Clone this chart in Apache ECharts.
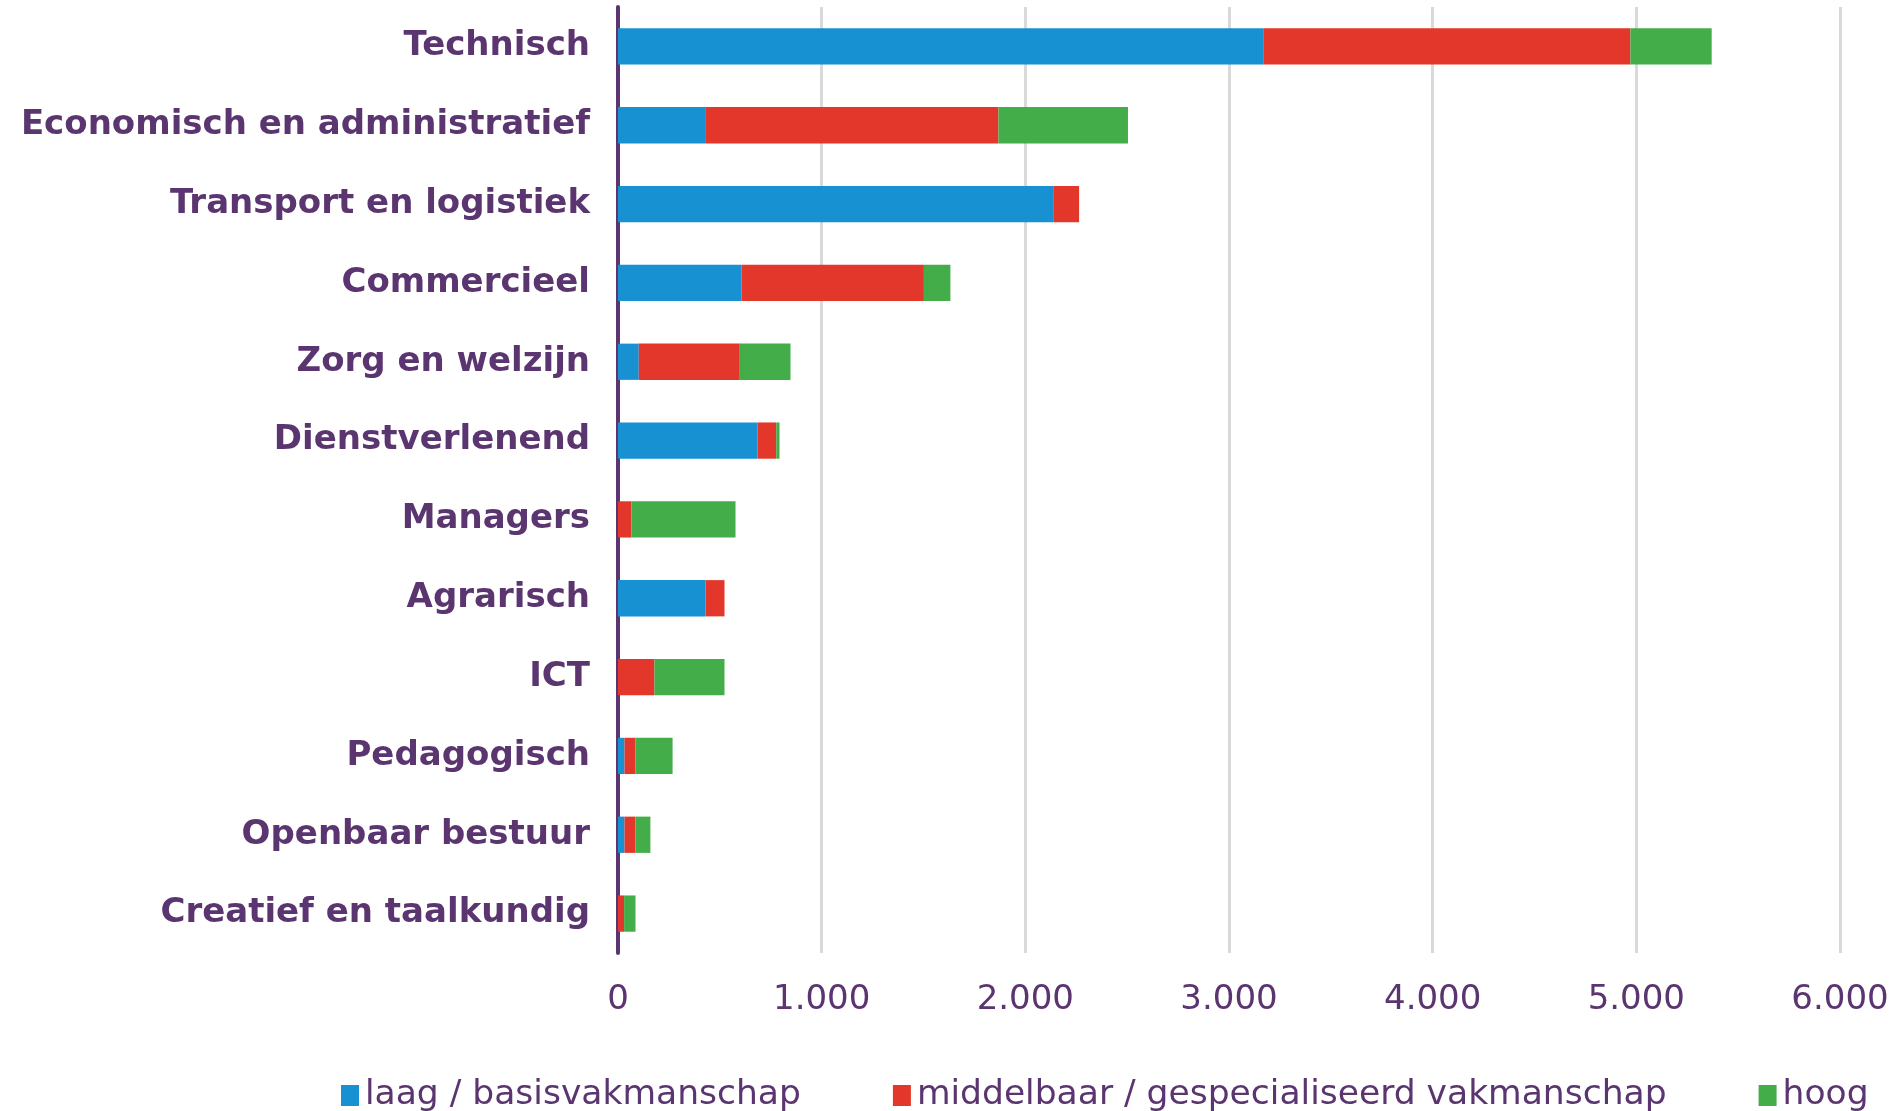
<!DOCTYPE html>
<html>
<head>
<meta charset="utf-8">
<script src="https://cdn.jsdelivr.net/npm/echarts@6/dist/echarts.min.js"></script>
<style>html,body{margin:0;padding:0;background:#fff;}#c{width:1900px;height:1111px;}</style>
</head>
<body>
<div id="c"></div>
<script>
const categories = ["Technisch","Economisch en administratief","Transport en logistiek","Commercieel","Zorg en welzijn","Dienstverlenend","Managers","Agrarisch","ICT","Pedagogisch","Openbaar bestuur","Creatief en taalkundig"];
const laag =       [3171, 428, 2137, 607, 102, 685,   0, 430,   0, 32, 32,  0];
const middelbaar = [1800,1440,  127, 895, 496,  92,  66,  93, 179, 54, 54, 30];
const hoog =       [ 399, 636,    0, 130, 249,  16, 511,   0, 344,182, 73, 56];
const seriesNames = ["laag / basisvakmanschap","middelbaar / gespecialiseerd vakmanschap","hoog"];
const xTicks = [0,1000,2000,3000,4000,5000,6000];

const purple = '#5b3570';
const colors = ['#1891d2','#e2372a','#43ad4a'];
const chart = echarts.init(document.getElementById('c'));
const vals = [laag, middelbaar, hoog];
chart.setOption({
  animation:false,
  color: colors,
  grid:{left:618,right:60,top:7,bottom:158,containLabel:false},
  legend:{
    left:336, top:1073, itemWidth:18, itemHeight:21, itemGap:92,
    icon:'rect',
    textStyle:{color:purple,fontFamily:'DejaVu Sans',fontSize:34.5,padding:[8,0,0,1]},
    data:seriesNames
  },
  xAxis:{
    type:'value', min:0, max:6000, interval:1000,
    axisLine:{show:false}, axisTick:{show:false},
    splitLine:{lineStyle:{color:'#d9d9d9',width:3}},
    axisLabel:{color:purple,fontFamily:'DejaVu Sans',fontSize:34,margin:30,
      formatter:v=>{const t=xTicks.indexOf(v);return t<0?'':(v===0?'0':(v/1000)+'.000');}}
  },
  yAxis:{
    type:'category', inverse:true, data:categories,
    axisLine:{lineStyle:{color:purple,width:4}},
    axisTick:{show:false},
    axisLabel:{color:purple,fontFamily:'DejaVu Sans',fontWeight:'bold',fontSize:34,margin:28}
  },
  series: seriesNames.map((n,i)=>({
    name:n, type:'bar', stack:'total', barWidth:'46%', data:vals[i],
    itemStyle:{color:colors[i]}
  }))
});
</script>
</body>
</html>
